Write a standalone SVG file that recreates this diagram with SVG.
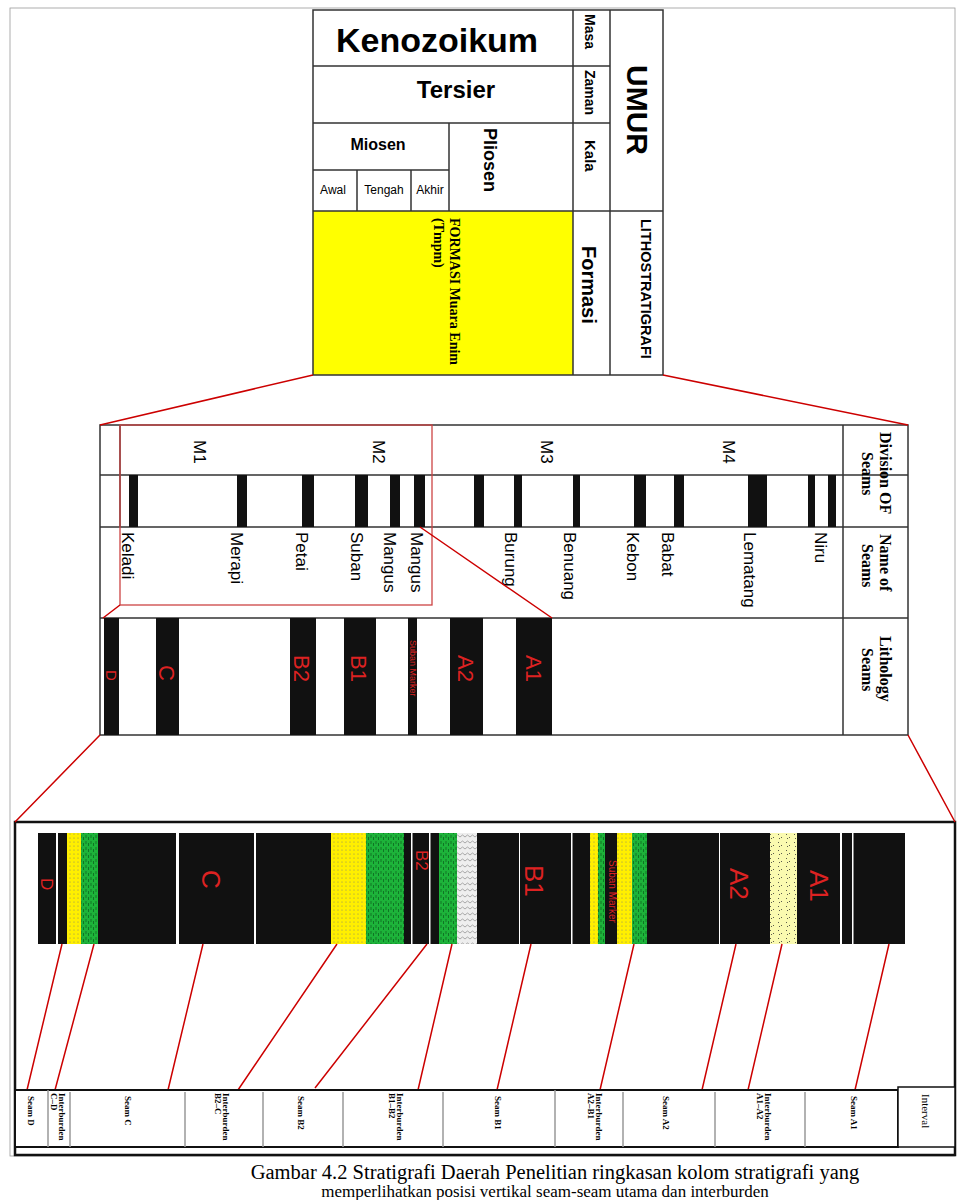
<svg xmlns="http://www.w3.org/2000/svg" width="957" height="1200" viewBox="0 0 957 1200">
<style>
.b{fill:none;stroke:#333;stroke-width:1.5}
.s{font-family:"Liberation Sans",Arial,sans-serif;fill:#000}
.r{font-family:"Liberation Serif","Times New Roman",serif;font-weight:bold;fill:#000}
.red{fill:#d22;font-family:"Liberation Sans",Arial,sans-serif}
.cn{stroke:#c00;stroke-width:1.5;fill:none}
.bk{fill:#111}
</style>
<defs>
<pattern id="py" width="4" height="4" patternUnits="userSpaceOnUse"><rect width="4" height="4" fill="#ffef00"/><circle cx="2" cy="2" r="0.6" fill="#886"/></pattern>
<pattern id="pg" width="5" height="6" patternUnits="userSpaceOnUse"><rect width="5" height="6" fill="#1db33a"/><path d="M1 1v3M3.5 3v3" stroke="#0a5a1a" stroke-width="0.7"/></pattern>
<pattern id="pw" width="5" height="6" patternUnits="userSpaceOnUse"><rect width="5" height="6" fill="#eee"/><path d="M0 3l2.5-2 2.5 2" stroke="#888" stroke-width="0.7" fill="none"/></pattern>
<pattern id="pl" width="8" height="8" patternUnits="userSpaceOnUse"><rect width="8" height="8" fill="#fafab0"/><path d="M2 2l1 1M6 5l-1 1M3 6l1 1" stroke="#333" stroke-width="0.8"/></pattern>
</defs>
<rect x="10" y="8" width="945" height="1148" fill="#fff" stroke="#999" stroke-width="0.8"/>

<g id="umur-table">
<rect x="313" y="211" width="260" height="164" fill="#ffff00"/>
<rect class="b" x="313" y="10" width="350" height="365"/>
<path class="b" d="M573 10V375M610 10V375M313 66H610M313 123H610M313 211H663M313 170H449M449 123V211M357 170V211M411 170V211"/>
<text class="s" x="437" y="52" font-size="34" font-weight="bold" text-anchor="middle">Kenozoikum</text>
<text class="s" x="456" y="98" font-size="24" font-weight="bold" text-anchor="middle">Tersier</text>
<text class="s" x="378" y="150" font-size="16" font-weight="bold" text-anchor="middle">Miosen</text>
<text class="s" x="333" y="194" font-size="12" text-anchor="middle">Awal</text>
<text class="s" x="384" y="194" font-size="12" text-anchor="middle">Tengah</text>
<text class="s" x="430" y="194" font-size="12" text-anchor="middle">Akhir</text>
<text class="s" transform="translate(484,128) rotate(90)" font-size="18" font-weight="bold">Pliosen</text>
<text class="s" transform="translate(585,14) rotate(90)" font-size="14" font-weight="bold">Masa</text>
<text class="s" transform="translate(585,70) rotate(90)" font-size="14" font-weight="bold">Zaman</text>
<text class="s" transform="translate(585,140) rotate(90)" font-size="15" font-weight="bold">Kala</text>
<text class="s" transform="translate(582,246) rotate(90)" font-size="20" font-weight="bold">Formasi</text>
<text class="s" transform="translate(627,65) rotate(90)" font-size="30" font-weight="bold">UMUR</text>
<text class="s" transform="translate(641,219) rotate(90)" font-size="14.5" font-weight="bold">LITHOSTRATIGRAFI</text>
<text class="r" transform="translate(450,218) rotate(90)" font-size="14">FORMASI Muara Enim</text>
<text class="r" transform="translate(434,218) rotate(90)" font-size="14">(Tmpm)</text>
</g>

<g id="seam-table">
<rect class="b" x="100" y="425" width="808" height="310"/>
<path class="b" d="M843 425V735M100 475H908M100 527H908M100 618H908M120 425V527"/>
<g class="bk">
<rect x="129" y="475" width="9" height="52"/><rect x="237" y="475" width="10" height="52"/><rect x="302" y="475" width="12" height="52"/><rect x="355" y="475" width="13" height="52"/><rect x="390" y="475" width="10" height="52"/><rect x="414" y="475" width="11" height="52"/><rect x="474" y="475" width="10" height="52"/><rect x="514" y="475" width="8" height="52"/><rect x="573" y="475" width="7" height="52"/><rect x="634" y="475" width="12" height="52"/><rect x="674" y="475" width="10" height="52"/><rect x="748" y="475" width="19" height="52"/><rect x="808" y="475" width="7" height="52"/><rect x="828" y="475" width="8" height="52"/>
</g>
<g class="s" font-size="17">
<text transform="translate(194,440) rotate(90)">M1</text>
<text transform="translate(373,440) rotate(90)">M2</text>
<text transform="translate(541,440) rotate(90)">M3</text>
<text transform="translate(723,440) rotate(90)">M4</text>
<text transform="translate(122,532) rotate(90)">Keladi</text>
<text transform="translate(231,532) rotate(90)">Merapi</text>
<text transform="translate(296,532) rotate(90)">Petai</text>
<text transform="translate(351,532) rotate(90)">Suban</text>
<text transform="translate(384,532) rotate(90)">Mangus</text>
<text transform="translate(411,532) rotate(90)">Mangus</text>
<text transform="translate(505,532) rotate(90)">Burung</text>
<text transform="translate(564,532) rotate(90)">Benuang</text>
<text transform="translate(627,532) rotate(90)">Kebon</text>
<text transform="translate(662,532) rotate(90)">Babat</text>
<text transform="translate(744,532) rotate(90)">Lematang</text>
<text transform="translate(815,532) rotate(90)">Niru</text>
</g>
<g class="r" font-size="16">
<text transform="translate(880,432) rotate(90)">Division OF</text>
<text transform="translate(862,452) rotate(90)">Seams</text>
<text transform="translate(880,534) rotate(90)">Name of</text>
<text transform="translate(862,544) rotate(90)">Seams</text>
<text transform="translate(880,636) rotate(90)">Lithology</text>
<text transform="translate(862,648) rotate(90)">Seams</text>
</g>
<g class="bk">
<rect x="104" y="618" width="15" height="117"/><rect x="156" y="618" width="23" height="117"/><rect x="290" y="618" width="26" height="117"/><rect x="344" y="618" width="32" height="117"/><rect x="408" y="618" width="9" height="117"/><rect x="450" y="618" width="33" height="117"/><rect x="516" y="618" width="36" height="117"/>
</g>
<g class="red" font-size="22">
<text transform="translate(106,670) rotate(90)" font-size="15">D</text>
<text transform="translate(159,665) rotate(90)">C</text>
<text transform="translate(294,655) rotate(90)">B2</text>
<text transform="translate(351,655) rotate(90)">B1</text>
<text transform="translate(410,640) rotate(90)" font-size="9">Suban Marker</text>
<text transform="translate(458,655) rotate(90)">A2</text>
<text transform="translate(526,655) rotate(90)">A1</text>
</g>
<rect x="120" y="425" width="312" height="180" fill="none" stroke="#c44" stroke-width="1.3"/>
</g>

<g id="strip">
<rect x="15" y="822" width="940" height="333" fill="none" stroke="#111" stroke-width="2.5"/>
<rect x="38" y="833" width="867" height="111" fill="#111"/>
<g fill="#fff"><rect x="56" y="833" width="2" height="111"/><rect x="176" y="833" width="3" height="111"/><rect x="254" y="833" width="2" height="111"/><rect x="411" y="833" width="1.5" height="111"/><rect x="429" y="833" width="1.5" height="111"/><rect x="519" y="833" width="1" height="111"/><rect x="571" y="833" width="1.5" height="111"/><rect x="719" y="833" width="1" height="111"/><rect x="840" y="833" width="2" height="111"/><rect x="852" y="833" width="1.5" height="111"/></g>
<rect x="67" y="833" width="14" height="111" fill="url(#py)"/>
<rect x="81" y="833" width="17" height="111" fill="url(#pg)"/>
<rect x="331" y="833" width="35" height="111" fill="url(#py)"/>
<rect x="366" y="833" width="38" height="111" fill="url(#pg)"/>
<rect x="439" y="833" width="18" height="111" fill="url(#pg)"/>
<rect x="457" y="833" width="20" height="111" fill="url(#pw)"/>
<rect x="590" y="833" width="8" height="111" fill="url(#py)"/>
<rect x="598" y="833" width="7" height="111" fill="url(#pg)"/>
<rect x="617" y="833" width="15" height="111" fill="url(#py)"/>
<rect x="632" y="833" width="15" height="111" fill="url(#pg)"/>
<rect x="770" y="833" width="27" height="111" fill="url(#pl)"/>
<g class="red" font-size="26">
<text transform="translate(41,878) rotate(90)" font-size="17">D</text>
<text transform="translate(202,870) rotate(90)">C</text>
<text transform="translate(416,850) rotate(90)" font-size="17">B2</text>
<text transform="translate(525,865) rotate(90)">B1</text>
<text transform="translate(609,860) rotate(90)" font-size="10">Suban Marker</text>
<text transform="translate(730,868) rotate(90)">A2</text>
<text transform="translate(810,870) rotate(90)">A1</text>
</g>
</g>

<g id="connectors" class="cn">
<path d="M313 375L100 425M663 375L908 425"/>
<path d="M120 605L103 618M420 527L552 618"/>
<path d="M100 735L15 822M908 735L955 822"/>
<path d="M62 944L27 1090M94 944L55 1090M203 944L168 1090M337 944L238 1090M427 944L315 1088M452 944L418 1090M531 944L497 1090M634 944L600 1090M736 944L702 1090M782 944L748 1090M889 944L855 1090"/>
</g>

<g id="interval-row">
<rect x="15" y="1090" width="883" height="57" fill="#fff" stroke="#111" stroke-width="2"/>
<rect x="898" y="1087" width="57" height="60" fill="#fff" stroke="#111" stroke-width="1.5"/>
<path d="M48 1090V1147M70 1092V1147M185 1092V1147M263 1092V1147M343 1092V1147M443 1092V1147M555 1090V1147M623 1092V1147M715 1092V1147M805 1092V1147" stroke="#999" stroke-width="1.5"/>
<g class="r" font-size="9">
<text transform="translate(28,1096) rotate(90)">Seam D</text>
<text transform="translate(59,1093) rotate(90)">Interburden</text>
<text transform="translate(51,1093) rotate(90)">C–D</text>
<text transform="translate(125,1096) rotate(90)">Seam C</text>
<text transform="translate(223,1093) rotate(90)">Interburden</text>
<text transform="translate(215,1093) rotate(90)">B2–C</text>
<text transform="translate(298,1096) rotate(90)">Seam B2</text>
<text transform="translate(397,1093) rotate(90)">Interburden</text>
<text transform="translate(389,1093) rotate(90)">B1–B2</text>
<text transform="translate(495,1096) rotate(90)">Seam B1</text>
<text transform="translate(596,1093) rotate(90)">Interburden</text>
<text transform="translate(588,1093) rotate(90)">A2–B1</text>
<text transform="translate(663,1096) rotate(90)">Seam A2</text>
<text transform="translate(765,1093) rotate(90)">Interburden</text>
<text transform="translate(757,1093) rotate(90)">A1–A2</text>
<text transform="translate(851,1096) rotate(90)">Seam A1</text>
<text transform="translate(922,1094) rotate(90)" font-size="11" font-weight="normal">Interval</text>
</g>
</g>

<text x="555" y="1179" font-family="Liberation Serif,serif" font-size="20.5" text-anchor="middle">Gambar 4.2 Stratigrafi Daerah Penelitian ringkasan kolom stratigrafi yang</text>
<text x="545" y="1197" font-family="Liberation Serif,serif" font-size="17" text-anchor="middle">memperlihatkan posisi vertikal seam-seam utama dan interburden</text>
</svg>
